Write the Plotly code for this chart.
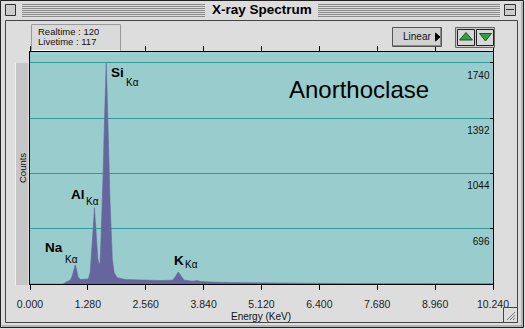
import plotly.graph_objects as go

# ---------------- data ----------------
energy_kev = [0.00, 0.70, 0.73, 0.80, 0.89, 0.93, 0.975, 1.00, 1.02, 1.06, 1.11, 1.20, 1.29,
              1.33, 1.35, 1.37, 1.40, 1.425, 1.45, 1.47, 1.50, 1.53, 1.55, 1.57, 1.60,
              1.62, 1.64, 1.66, 1.685, 1.71, 1.73, 1.75, 1.77, 1.80, 1.82, 1.86, 1.93,
              2.11, 2.44, 2.88, 3.15, 3.21, 3.28, 3.35, 3.41, 3.60, 3.69, 3.77, 3.99,
              4.43, 5.10, 5.98, 7.09, 8.20, 9.31, 10.24]
counts = [348, 348, 348, 360, 372, 396, 444, 468, 452, 396, 376, 376, 380,
          420, 488, 604, 708, 828, 732, 612, 508, 468, 488, 628, 844,
          1068, 1308, 1548, 1740, 1508, 1268, 1044, 868, 652, 508, 420, 388,
          376, 372, 370, 372, 392, 424, 392, 372, 366, 370, 364, 360,
          357, 354, 353, 351, 350, 350, 350]

x_ticks = [0.0, 1.28, 2.56, 3.84, 5.12, 6.40, 7.68, 8.96, 10.24]
y_ticks = [696, 1044, 1392, 1740]

peak_names = ["Si", "Al", "Na", "K"]
peak_label_x = [1.93, 1.06, 0.54, 3.285]
peak_label_y = [1680, 909, 581, 493]
peak_sub_x = [2.26, 1.372, 0.907, 3.58]
peak_sub_y = [1620, 865, 502, 468]

sample_name = "Anorthoclase"
realtime = 120
livetime = 117

# ---------------- geometry helpers for window chrome ----------------
W, H = 525, 329
L, R, T, B = 30, 493, 52, 284


def px(x):
    return (x - L) / (R - L)


def py(y):
    return (B - y) / (B - T)


FONT = "Liberation Sans, Arial, Helvetica, sans-serif"
PLOT_BG = "#99CCCC"
FILL = "#66669F"
GRID = "#339999"
WIN_BG = "#DDDDDD"

shapes = []
annotations = []


def rect(x0, y0, x1, y1, fill=None, line=None, lw=1):
    shapes.append(dict(type="rect", xref="paper", yref="paper",
                       x0=px(x0), x1=px(x1), y0=py(y0), y1=py(y1),
                       fillcolor=fill if fill else "rgba(0,0,0,0)",
                       line=dict(color=line if line else "rgba(0,0,0,0)", width=lw if line else 0),
                       layer="above"))


def hline(x0, x1, y, color, lw=1):
    shapes.append(dict(type="line", xref="paper", yref="paper",
                       x0=px(x0), x1=px(x1), y0=py(y), y1=py(y),
                       line=dict(color=color, width=lw), layer="above"))


def vline(x, y0, y1, color, lw=1):
    shapes.append(dict(type="line", xref="paper", yref="paper",
                       x0=px(x), x1=px(x), y0=py(y0), y1=py(y1),
                       line=dict(color=color, width=lw), layer="above"))


def tri(points, fill, line):
    path = "M " + " L ".join(f"{px(a)},{py(b)}" for a, b in points) + " Z"
    shapes.append(dict(type="path", xref="paper", yref="paper", path=path,
                       fillcolor=fill, line=dict(color=line, width=1), layer="above"))


def text(x, y, s, size, color="#000", xanchor="center", angle=0, bold=False, height=None):
    a = dict(xref="paper", yref="paper", x=px(x), y=py(y),
             text=f"<b>{s}</b>" if bold else s, showarrow=False,
             xanchor=xanchor, yanchor="middle", textangle=angle, borderpad=0,
             font=dict(family=FONT, size=size, color=color))
    if height:
        a["height"] = height
    annotations.append(a)


# window frames
rect(0.5, 0.5, 523.5, 327.5, line="#222222")
rect(5.5, 20.5, 517.5, 322.5, line="#444444")
vline(522, 2, 327, "#888888")
hline(2, 522, 326, "#888888")

# title bar stripes
for yy in range(4, 18, 2):
    hline(22, 205, yy + 0.5, "#8A8A8A")
    hline(318, 500, yy + 0.5, "#8A8A8A")
rect(5.5, 4.5, 15.5, 15.5, fill="#CCCCCC", line="#333333")
rect(504.5, 4.5, 515.5, 15.5, fill="#CCCCCC", line="#333333")
hline(506, 514, 9.5, "#333333")
text(262, 10, "X-ray Spectrum", 13.5, bold=True)

# realtime box
rect(31.5, 24.5, 120.5, 50.5, fill="#DADADA", line="#9A9A9A")
hline(32, 120, 50.5, "#FFFFFF")
text(37, 31.5, f"Realtime : {realtime}", 9.5, "#111", xanchor="left", height=9)
text(37, 41.5, f"Livetime : {livetime}", 9.5, "#111", xanchor="left", height=9)

# Linear button
rect(392.5, 27.5, 441.5, 46.5, fill="#D2D2D2", line="#555555")
hline(393, 441, 45.5, "#888888")
vline(440.5, 28, 46, "#888888")
text(417, 37, "Linear", 10, "#111")
tri([(435.5, 33), (440, 37), (435.5, 41)], "#000000", "#000000")

# arrow buttons
rect(455.5, 27.5, 494.5, 47.5, fill="#C8C8C8", line="#666666")
rect(457.5, 29.5, 474.5, 45.5, fill="#D8D8D8", line="#222222")
rect(476.5, 29.5, 493.5, 45.5, fill="#D8D8D8", line="#222222")
tri([(466, 32.5), (459.5, 40), (472.5, 40)], "#33A040", "#145A1E")
tri([(479.5, 33.5), (491.5, 33.5), (485.5, 41)], "#33A040", "#145A1E")

# left gray strip
rect(15, 63, 28, 285, fill="#C6C6C6", line=None)
vline(15.5, 63, 285, "#F0F0F0")

# grow box
rect(503.5, 307.5, 517.5, 322.5, fill="#DDDDDD", line="#444444")
for k in range(3):
    shapes.append(dict(type="line", xref="paper", yref="paper",
                       x0=px(507 + 3 * k), y0=py(320), x1=px(515), y1=py(312 + 3 * k),
                       line=dict(color="#777777", width=1), layer="above"))

# light line under top border of the plot
hline(31, 492, 53.5, "#7FE3D3")

# axis titles / labels
text(22, 168, "Counts", 9.5, "#111", angle=-90)
text(261, 316, "Energy (KeV)", 10, "#111")
annotations.append(dict(xref="paper", yref="paper", x=px(359), y=py(89),
                        text=sample_name, showarrow=False, xanchor="center", yanchor="middle",
                        font=dict(family=FONT, size=24, color="#000")))

# peak labels, in data coordinates
for name, lx, ly, sx, sy in zip(peak_names, peak_label_x, peak_label_y, peak_sub_x, peak_sub_y):
    annotations.append(dict(x=lx, y=ly, xref="x", yref="y", text=f"<b>{name}</b>",
                            showarrow=False, xanchor="center", yanchor="middle",
                            font=dict(family=FONT, size=13.5, color="#000")))
    annotations.append(dict(x=sx, y=sy, xref="x", yref="y", text="Kα",
                            showarrow=False, xanchor="center", yanchor="middle",
                            font=dict(family=FONT, size=10, color="#000")))

fig = go.Figure()
fig.add_trace(go.Scatter(x=energy_kev, y=counts, mode="lines", fill="tozeroy",
                         fillcolor=FILL, line=dict(color=FILL, width=0.6),
                         hoverinfo="x+y", showlegend=False))

fig.update_layout(
    width=W, height=H,
    margin=dict(l=L, r=W - R, t=T, b=H - B, pad=0),
    paper_bgcolor=WIN_BG, plot_bgcolor=PLOT_BG,
    font=dict(family=FONT, size=10, color="#222"),
    shapes=shapes, annotations=annotations,
    xaxis=dict(range=[-0.0001, 10.2401], tickvals=x_ticks, ticktext=[f"{v:.3f}" for v in x_ticks],
               showgrid=False, zeroline=False, showline=True, linecolor="#000", linewidth=1,
               mirror="ticks", ticks="outside", ticklen=5, tickcolor="#000",
               ticklabelstandoff=5, ticklabeloverflow="allow",
               tickfont=dict(size=10.5, color="#222")),
    yaxis=dict(range=[348, 1809], tickvals=y_ticks, ticktext=[str(v) for v in y_ticks],
               side="right", ticklabelposition="inside bottom", ticks="inside", ticklen=3,
               tickcolor="#000", showgrid=True, gridcolor=GRID, gridwidth=1,
               zeroline=False, showline=True, linecolor="#000", linewidth=1, mirror=True,
               ticklabelshift=5, ticklabelstandoff=2, ticklabeloverflow="allow",
               tickfont=dict(size=10, color="#111")),
)

fig.write_html("out.html")
